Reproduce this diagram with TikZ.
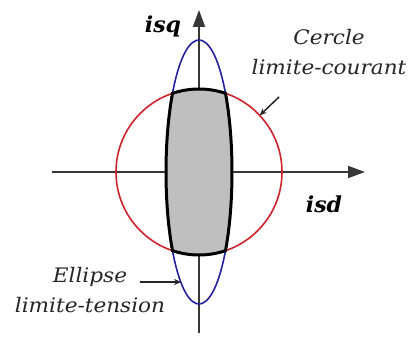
\documentclass[tikz,border=0pt]{standalone}
\usepackage{fontspec}
\setmainfont{DejaVu Serif}
\usepackage{tikz}
\usetikzlibrary{arrows.meta}
\definecolor{circred}{RGB}{205,35,45}
\definecolor{ellblue}{RGB}{35,35,160}
\definecolor{axisgray}{RGB}{55,55,55}
\tikzset{
  axisline/.style={draw=axisgray, line width=2pt, -{Triangle[length=17pt, width=12pt]}},
  limcircle/.style={draw=circred, line width=1.6pt},
  limellipse/.style={draw=ellblue, line width=1.6pt},
  zone/.style={draw=black, line width=3pt, fill=gray!50},
  lbl/.style={font=\fontsize{20}{30}\selectfont\itshape, text=black!85, align=center, xscale=1.08},
  axlbl/.style={font=\fontsize{22}{24}\selectfont\bfseries\itshape},
  ptr/.style={-{Stealth[length=7pt, width=6pt]}, line width=1.5pt, draw=black!85},
}

\begin{document}
\begin{tikzpicture}[x=1pt, y=1pt]

  \useasboundingbox (-199,-168) rectangle (213,172);

  %% Axes
  \coordinate (o) at (0,0);
  \coordinate (xa) at (-147,0);
  \coordinate (xb) at (166,0);
  \coordinate (ya) at (0,-161);
  \coordinate (yb) at (0,162);
  \draw[axisline] (xa) -- (xb);
  \draw[axisline] (ya) -- (yb);

  %% Limit curves
  \draw[limcircle] (o) circle[radius=83];
  \draw[limellipse] (o) ellipse[x radius=33, y radius=132];

  %% Admissible zone
  \draw[zone] (-36.58:33 and 132) arc[start angle=-36.58, end angle=36.58, x radius=33, y radius=132]
    arc[start angle=71.38, end angle=108.62, radius=83]
    arc[start angle=143.42, end angle=216.58, x radius=33, y radius=132]
    arc[start angle=251.38, end angle=288.62, radius=83] -- cycle;

  %% Labels
  \node[axlbl] (isq) at (-36,146) {isq};
  \node[axlbl] (isd) at (125,-32) {isd};

  \node[lbl] (cercle) at (130,120) {Cercle\\limite-courant};
  \node[lbl] (ellipse) at (-109,-118) {Ellipse\\limite-tension};

  %% Pointers
  \coordinate (cfrom) at (80,75);
  \coordinate (cto) at (43:83);
  \coordinate (efrom) at (-59,-110);
  \coordinate (eto) at (-17.9,-110);
  \draw[ptr] (cfrom) -- (cto);
  \draw[ptr] (efrom) -- (eto);

\end{tikzpicture}
\end{document}
